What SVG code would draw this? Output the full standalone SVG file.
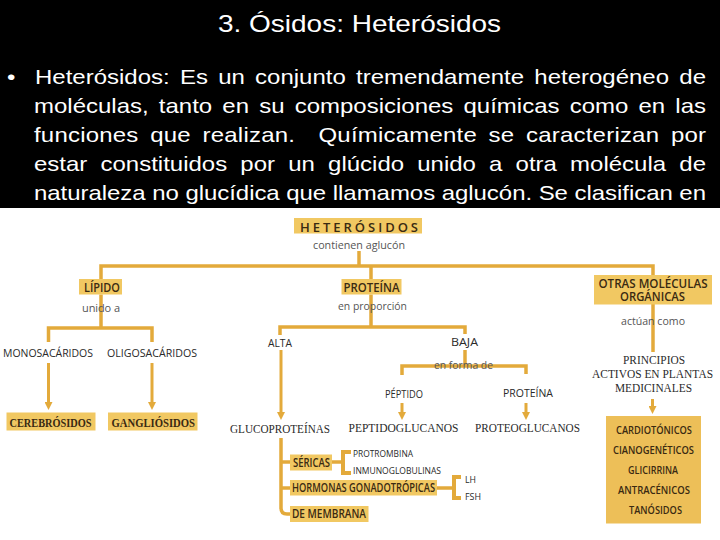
<svg xmlns="http://www.w3.org/2000/svg" width="720" height="540" viewBox="0 0 720 540">
<defs>
<style>
.hd{font-family:"Liberation Sans",Arial,sans-serif;fill:#fff}
.bx{fill:#F1C862}
.ln{fill:none;stroke:#E3AA3B;stroke-width:3.5}
.ar{fill:none;stroke:#E3AA3B;stroke-width:3}
.br{fill:none;stroke:#E3AA3B;stroke-width:4}
.bl{font-family:"Open Sans","Liberation Sans",sans-serif;font-weight:600;fill:#3a2a12}
.sl{font-family:"Open Sans","Liberation Sans",sans-serif;fill:#2a2a2a}
.gl{font-family:"Open Sans","Liberation Sans",sans-serif;fill:#555}
.sf{font-family:"Liberation Serif","Times New Roman",serif;fill:#2a2a2a}
.sb{font-family:"Liberation Serif","Times New Roman",serif;font-weight:bold;fill:#3a2a12}
</style>
<marker id="ah" viewBox="0 0 10 10" refX="2" refY="5" markerWidth="8" markerHeight="8" markerUnits="userSpaceOnUse" orient="auto"><path d="M0,0 L10,5 L0,10 z" fill="#E3AA3B"/></marker>
</defs>
<rect x="0" y="0" width="720" height="208" fill="#000"/>
<rect x="0" y="208" width="720" height="332" fill="#fff"/>
<g id="header">
<text class="hd" font-size="28" text-anchor="middle" transform="translate(359.5,32) scale(1,0.85)">3. Ósidos: Heterósidos</text>
<text class="hd" font-size="24" transform="translate(7,84) scale(1,0.85)">•</text>
<text class="hd" font-size="24" style="word-spacing:3.6px" textLength="671" lengthAdjust="spacing" transform="translate(35,84) scale(1,0.85)">Heterósidos: Es un conjunto tremendamente heterogéneo de</text>
<text class="hd" font-size="24" style="word-spacing:3.5px" textLength="672" lengthAdjust="spacing" transform="translate(34,113) scale(1,0.85)">moléculas, tanto en su composiciones químicas como en las</text>
<text class="hd" font-size="24" xml:space="preserve" style="word-spacing:4.8px" textLength="672" lengthAdjust="spacing" transform="translate(34,142) scale(1,0.85)">funciones que realizan.  Químicamente se caracterizan por</text>
<text class="hd" font-size="24" style="word-spacing:6.5px" textLength="672" lengthAdjust="spacing" transform="translate(34,171) scale(1,0.85)">estar constituidos por un glúcido unido a otra molécula de</text>
<text class="hd" font-size="24" textLength="672" lengthAdjust="spacing" transform="translate(34,200) scale(1,0.85)">naturaleza no glucídica que llamamos aglucón. Se clasifican en</text>
</g>
<g id="connectors">
<path class="ln" d="M359,251 V266"/>
<path class="ln" d="M101,279 V266 H653 V275"/>
<path class="ln" d="M371,266 V279"/>
<path class="ln" d="M101,294.5 V328"/>
<path class="ln" d="M48.5,342 V328 H152 V342"/>
<path class="ln" d="M371,294.5 V327"/>
<path class="ln" d="M280,335 V327 H465 V334"/>
<path class="ln" d="M465,350 V366"/>
<path class="ln" d="M402,375 V366 H526 V374"/>
<path class="ln" d="M653,304 V352"/>
<path class="ln" d="M281,438 V508 Q281,514 287,514 H291"/>
<path class="ln" d="M281,462 H291"/>
<path class="ln" d="M281,488 H291"/>
<path class="ln" d="M331,462 H343"/>
<path class="br" d="M351,452 H343 V473 H351"/>
<path class="ln" d="M436,488 H454"/>
<path class="br" d="M461,477 H454 V498 H461"/>
<path class="ar" d="M48.5,363 V403.6" marker-end="url(#ah)"/>
<path class="ar" d="M152,363 V403.6" marker-end="url(#ah)"/>
<path class="ar" d="M281,350 V413.6" marker-end="url(#ah)"/>
<path class="ar" d="M402,403 V413.6" marker-end="url(#ah)"/>
<path class="ar" d="M526,403 V413.6" marker-end="url(#ah)"/>
<path class="ar" d="M652.5,399 V407.6" marker-end="url(#ah)"/>
</g>
<g id="heterosidos">
<rect class="bx" x="294" y="218" width="128" height="15.5"/>
<text class="bl" font-size="13" x="300" y="231.5" textLength="118" lengthAdjust="spacing">HETERÓSIDOS</text>
<text class="gl" font-size="11" x="313" y="249" textLength="92" lengthAdjust="spacingAndGlyphs">contienen aglucón</text>
</g>
<g id="lipido">
<rect class="bx" x="79" y="279" width="43" height="15.5"/>
<text class="bl" font-size="13" x="84" y="292" textLength="36" lengthAdjust="spacingAndGlyphs">LÍPIDO</text>
<text class="gl" font-size="11" x="82" y="311.5" textLength="38" lengthAdjust="spacing">unido a</text>
</g>
<g id="proteina">
<rect class="bx" x="341.5" y="279" width="60" height="15.5"/>
<text class="bl" font-size="13" x="343.5" y="292" textLength="56" lengthAdjust="spacingAndGlyphs">PROTEÍNA</text>
<text class="gl" font-size="11" x="338" y="310" textLength="69" lengthAdjust="spacingAndGlyphs">en proporción</text>
</g>
<g id="otras">
<rect class="bx" x="594" y="275" width="118" height="29.5"/>
<text class="bl" font-size="12" x="598.5" y="288" textLength="109" lengthAdjust="spacingAndGlyphs">OTRAS MOLÉCULAS</text>
<text class="bl" font-size="12" x="620" y="301" textLength="65" lengthAdjust="spacingAndGlyphs">ORGÁNICAS</text>
<text class="gl" font-size="11" x="621" y="325" textLength="64" lengthAdjust="spacingAndGlyphs">actúan como</text>
</g>
<g id="monosacaridos"><text class="sl" font-size="11" x="3" y="357" textLength="90" lengthAdjust="spacingAndGlyphs">MONOSACÁRIDOS</text></g>
<g id="oligosacaridos"><text class="sl" font-size="11" x="107" y="357" textLength="90" lengthAdjust="spacingAndGlyphs">OLIGOSACÁRIDOS</text></g>
<g id="cerebrosidos">
<rect class="bx" x="6.5" y="412.5" width="89" height="18"/>
<text class="sb" font-size="12.5" x="9.5" y="426.5" textLength="82" lengthAdjust="spacingAndGlyphs">CEREBRÓSIDOS</text>
</g>
<g id="gangliosidos">
<rect class="bx" x="108" y="412.5" width="89.5" height="18"/>
<text class="sb" font-size="12.5" x="111.5" y="426.5" textLength="83.5" lengthAdjust="spacingAndGlyphs">GANGLIÓSIDOS</text>
</g>
<g id="alta"><text class="sl" font-size="11" x="268" y="346.5" textLength="24" lengthAdjust="spacingAndGlyphs">ALTA</text></g>
<g id="baja">
<text class="sl" font-size="11" x="451" y="346" textLength="27" lengthAdjust="spacingAndGlyphs">BAJA</text>
<text class="gl" font-size="11" x="434" y="369" textLength="59" lengthAdjust="spacingAndGlyphs">en forma de</text>
</g>
<g id="peptido"><text class="sl" font-size="11" x="385" y="397.5" textLength="38" lengthAdjust="spacingAndGlyphs">PÉPTIDO</text></g>
<g id="proteina2"><text class="sl" font-size="11" x="503" y="397" textLength="50" lengthAdjust="spacingAndGlyphs">PROTEÍNA</text></g>
<g id="glucoproteinas"><text class="sf" font-size="12.5" x="230" y="432.5" textLength="100" lengthAdjust="spacingAndGlyphs">GLUCOPROTEÍNAS</text></g>
<g id="peptidoglucanos"><text class="sf" font-size="12.5" x="348.5" y="432" textLength="110" lengthAdjust="spacingAndGlyphs">PEPTIDOGLUCANOS</text></g>
<g id="proteoglucanos"><text class="sf" font-size="12.5" x="475" y="432" textLength="105" lengthAdjust="spacingAndGlyphs">PROTEOGLUCANOS</text></g>
<g id="sericas">
<rect class="bx" x="290" y="454.5" width="42" height="16"/>
<text class="bl" font-size="12" x="293" y="467" textLength="37" lengthAdjust="spacingAndGlyphs">SÉRICAS</text>
<text class="sl" font-size="9" x="353" y="457" textLength="60" lengthAdjust="spacingAndGlyphs">PROTROMBINA</text>
<text class="sl" font-size="9" x="353" y="473.5" textLength="88" lengthAdjust="spacingAndGlyphs">INMUNOGLOBULINAS</text>
</g>
<g id="hormonas">
<rect class="bx" x="290" y="480" width="147" height="15.5"/>
<text class="bl" font-size="12" x="292" y="492" textLength="143" lengthAdjust="spacingAndGlyphs">HORMONAS GONADOTRÓPICAS</text>
<text class="sl" font-size="8.5" x="465" y="483" textLength="11" lengthAdjust="spacingAndGlyphs">LH</text>
<text class="sl" font-size="8.5" x="465" y="500" textLength="16" lengthAdjust="spacingAndGlyphs">FSH</text>
</g>
<g id="membrana">
<rect class="bx" x="290" y="506" width="78.5" height="16"/>
<text class="bl" font-size="12" x="292" y="517.5" textLength="74" lengthAdjust="spacingAndGlyphs">DE MEMBRANA</text>
</g>
<g id="principios">
<text class="sf" font-size="12" x="623" y="364" textLength="62" lengthAdjust="spacingAndGlyphs">PRINCIPIOS</text>
<text class="sf" font-size="12" x="592" y="378" textLength="121" lengthAdjust="spacingAndGlyphs">ACTIVOS EN PLANTAS</text>
<text class="sf" font-size="12" x="615" y="392" textLength="77" lengthAdjust="spacingAndGlyphs">MEDICINALES</text>
</g>
<g id="tipos">
<rect x="606" y="416" width="95" height="107.5" fill="#EDBF58"/>
<text class="bl" font-size="11.5" x="616" y="433.5" textLength="76" lengthAdjust="spacingAndGlyphs">CARDIOTÓNICOS</text>
<text class="bl" font-size="11.5" x="613" y="453.5" textLength="81" lengthAdjust="spacingAndGlyphs">CIANOGENÉTICOS</text>
<text class="bl" font-size="11.5" x="628" y="473.5" textLength="50" lengthAdjust="spacingAndGlyphs">GLICIRRINA</text>
<text class="bl" font-size="11.5" x="618" y="493.5" textLength="72" lengthAdjust="spacingAndGlyphs">ANTRACÉNICOS</text>
<text class="bl" font-size="11.5" x="629" y="514" textLength="53" lengthAdjust="spacingAndGlyphs">TANÓSIDOS</text>
</g>
</svg>
